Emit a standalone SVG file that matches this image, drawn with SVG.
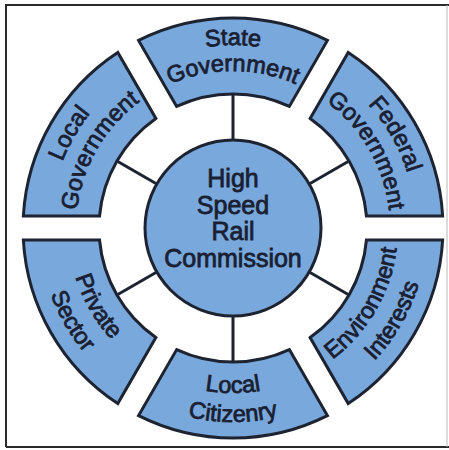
<svg xmlns="http://www.w3.org/2000/svg" xmlns:xlink="http://www.w3.org/1999/xlink" width="449" height="450" viewBox="0 0 449 450">
  <style>
    .seg { fill: #79a8dc; stroke: #1d2330; stroke-width: 3; stroke-linejoin: miter; }
    .hub { fill: #79a8dc; stroke: #1d2330; stroke-width: 3; }
    .link { stroke: #1d2330; stroke-width: 3; fill: none; }
    .lbl { font-family: "Liberation Sans", Arial, Helvetica, sans-serif; fill: #1a1f33; stroke: #1a1f33; stroke-width: 0.8; text-anchor: middle; }
    .hubtxt { font-size: 25px; }
    .segtxt { font-size: 23.5px; }
  </style>
  <defs>
    <!-- one ring segment, centred on the upward direction, origin at the hub centre -->
    <path id="segShape" d="M -56.34 -121.59 L -94.42 -187.58 A 210 210 0 0 1 94.42 -187.58 L 56.34 -121.59 A 134 134 0 0 0 -56.34 -121.59 Z"/>
    <!-- baselines for labels whose tops face outward (upper segments) -->
    <path id="arcTopOuter" d="M -180.22 -31.78 A 183 183 0 0 1 180.22 -31.78"/>
    <path id="arcTopInner" d="M -154.61 -27.26 A 157 157 0 0 1 154.61 -27.26"/>
    <!-- baselines for labels whose bottoms face outward (lower segments) -->
    <path id="arcBotInner" d="M -162.49 28.65 A 165 165 0 0 0 162.49 28.65"/>
    <path id="arcBotOuter" d="M -191.05 33.69 A 194 194 0 0 0 191.05 33.69"/>
  </defs>

  <rect width="449" height="450" fill="#ffffff"/>

  <!-- frame -->
  <g id="frame" fill="none">
    <path d="M 6 447 L 6 5 L 449 5" stroke="#2a2a2a" stroke-width="2"/>
    <path d="M 6 447 L 449 447" stroke="#2a2a2a" stroke-width="2"/>
    <path d="M 447 5 L 447 447" stroke="#b8b8b8" stroke-width="1"/>
  </g>

  <g transform="translate(233 228)">
    <!-- spokes from the hub to each segment -->
    <g id="connectors">
      <line class="link" x1="0" y1="-88" x2="0" y2="-134"/>
      <line class="link" x1="0" y1="-88" x2="0" y2="-134" transform="rotate(60)"/>
      <line class="link" x1="0" y1="-88" x2="0" y2="-134" transform="rotate(120)"/>
      <line class="link" x1="0" y1="-88" x2="0" y2="-134" transform="rotate(180)"/>
      <line class="link" x1="0" y1="-88" x2="0" y2="-134" transform="rotate(240)"/>
      <line class="link" x1="0" y1="-88" x2="0" y2="-134" transform="rotate(300)"/>
    </g>

    <g id="hub">
      <circle class="hub" cx="0" cy="0" r="88"/>
      <text class="lbl hubtxt" x="0" y="-41">High</text>
      <text class="lbl hubtxt" x="0" y="-14">Speed</text>
      <text class="lbl hubtxt" x="0" y="12">Rail</text>
      <text class="lbl hubtxt" x="0" y="39">Commission</text>
    </g>

    <g id="state-government">
      <use xlink:href="#segShape" class="seg"/>
      <text class="lbl segtxt"><textPath xlink:href="#arcTopOuter" startOffset="50%">State</textPath></text>
      <text class="lbl segtxt"><textPath xlink:href="#arcTopInner" startOffset="50%">Government</textPath></text>
    </g>

    <g id="federal-government" transform="rotate(60)">
      <use xlink:href="#segShape" class="seg"/>
      <text class="lbl segtxt"><textPath xlink:href="#arcTopOuter" startOffset="50%">Federal</textPath></text>
      <text class="lbl segtxt"><textPath xlink:href="#arcTopInner" startOffset="50%">Government</textPath></text>
    </g>

    <g id="environment-interests" transform="rotate(120)">
      <use xlink:href="#segShape" class="seg"/>
      <g transform="rotate(-180)">
        <text class="lbl segtxt"><textPath xlink:href="#arcBotInner" startOffset="50%">Environment</textPath></text>
        <text class="lbl segtxt"><textPath xlink:href="#arcBotOuter" startOffset="50%">Interests</textPath></text>
      </g>
    </g>

    <g id="local-citizenry" transform="rotate(180)">
      <use xlink:href="#segShape" class="seg"/>
      <g transform="rotate(-180)">
        <text class="lbl segtxt"><textPath xlink:href="#arcBotInner" startOffset="50%">Local</textPath></text>
        <text class="lbl segtxt"><textPath xlink:href="#arcBotOuter" startOffset="50%">Citizenry</textPath></text>
      </g>
    </g>

    <g id="private-sector" transform="rotate(240)">
      <use xlink:href="#segShape" class="seg"/>
      <g transform="rotate(-180)">
        <text class="lbl segtxt"><textPath xlink:href="#arcBotInner" startOffset="50%">Private</textPath></text>
        <text class="lbl segtxt"><textPath xlink:href="#arcBotOuter" startOffset="50%">Sector</textPath></text>
      </g>
    </g>

    <g id="local-government" transform="rotate(300)">
      <use xlink:href="#segShape" class="seg"/>
      <text class="lbl segtxt"><textPath xlink:href="#arcTopOuter" startOffset="50%">Local</textPath></text>
      <text class="lbl segtxt"><textPath xlink:href="#arcTopInner" startOffset="50%">Government</textPath></text>
    </g>
  </g>
</svg>
